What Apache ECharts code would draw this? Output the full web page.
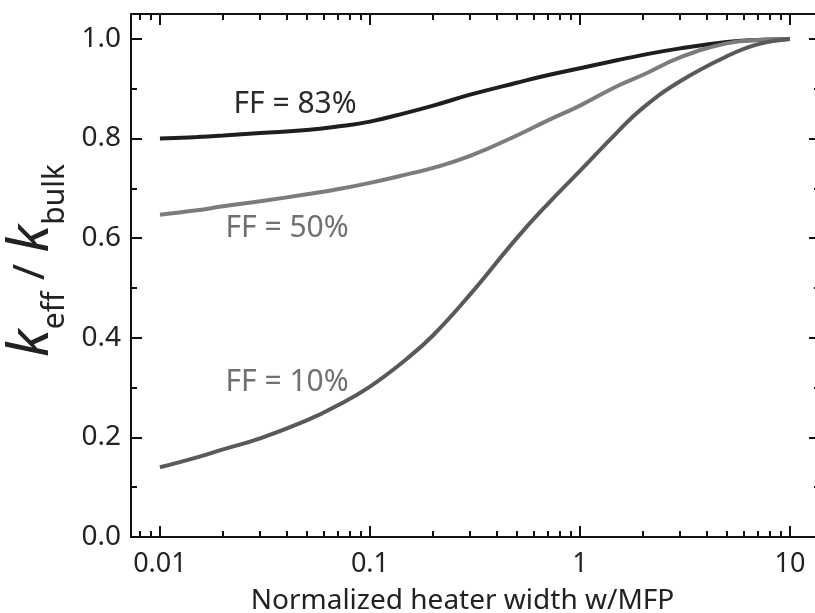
<!DOCTYPE html>
<html>
<head>
<meta charset="utf-8">
<title>keff vs heater width</title>
<script src="https://cdn.jsdelivr.net/npm/echarts@6/dist/echarts.min.js"></script>
<style>
  html, body { margin: 0; padding: 0; background: #fff; }
  #main { width: 815px; height: 613px; }
</style>
</head>
<body>
<div id="main"></div>
<script>
// normalized heater width w/MFP
const widths = [0.01, 0.015, 0.02, 0.03, 0.05, 0.07, 0.1, 0.15, 0.2, 0.3, 0.5, 0.7, 1, 1.5, 2, 3, 5, 7, 10]
// keff / kbulk for each fill factor
const ff83 = [0.800, 0.803, 0.806, 0.811, 0.817, 0.824, 0.834, 0.852, 0.866, 0.888, 0.912, 0.927, 0.941, 0.957, 0.968, 0.981, 0.994, 0.998, 1.0]
const ff50 = [0.647, 0.656, 0.664, 0.674, 0.688, 0.698, 0.711, 0.728, 0.741, 0.765, 0.806, 0.836, 0.866, 0.905, 0.928, 0.963, 0.991, 0.998, 1.0]
const ff10 = [0.140, 0.160, 0.176, 0.198, 0.234, 0.264, 0.302, 0.358, 0.405, 0.487, 0.600, 0.668, 0.735, 0.812, 0.862, 0.915, 0.965, 0.989, 1.0]

// curve labels: text, anchor w, anchor value
const ffNames = ['FF = 83%', 'FF = 50%', 'FF = 10%']
const ffLabelAt = [[0.044, 0.868], [0.0403, 0.619], [0.0403, 0.311]]

const xMajor = [0.01, 0.1, 1, 10]
const xMinor = [0.008, 0.009,
    0.02, 0.03, 0.04, 0.05, 0.06, 0.07, 0.08, 0.09,
    0.2, 0.3, 0.4, 0.5, 0.6, 0.7, 0.8, 0.9,
    2, 3, 4, 5, 6, 7, 8, 9]
const yMajor = [0, 0.2, 0.4, 0.6, 0.8, 1.0]
const yMinor = [0.1, 0.3, 0.5, 0.7, 0.9]

const xMin = 0.00728
const xMax = 13.9
const yMin = 0
const yMax = 1.05

const font = 'Noto Sans'
const axisColor = '#111'

const pairs = (ys) => widths.map((w, i) => [w, ys[i]])

function xAxis(position, ticks, len, withLine, withLabel) {
    return {
        type: 'log',
        position,
        min: xMin,
        max: xMax,
        axisLine: { show: withLine, onZero: false, lineStyle: { color: axisColor, width: 2 } },
        axisTick: { show: true, inside: true, length: len, customValues: ticks, lineStyle: { color: axisColor, width: 2 } },
        axisLabel: withLabel ? {
            customValues: xMajor,
            margin: 14,
            color: '#222',
            fontFamily: font,
            fontSize: 27,
            formatter: (v) => String(v)
        } : { show: false },
        splitLine: { show: false },
        name: withLabel ? 'Normalized heater width w/MFP' : '',
        nameLocation: 'middle',
        nameGap: 50,
        nameTextStyle: { color: '#222', fontFamily: font, fontSize: 28, padding: [0, 26, 0, 0] }
    }
}

function yAxis(position, ticks, len, withLine, withLabel) {
    return {
        type: 'value',
        position,
        min: yMin,
        max: yMax,
        axisLine: { show: withLine, onZero: false, lineStyle: { color: axisColor, width: 2 } },
        axisTick: { show: true, inside: true, length: len, customValues: ticks, lineStyle: { color: axisColor, width: 2 } },
        axisLabel: withLabel ? {
            customValues: yMajor,
            margin: 10,
            color: '#222',
            fontFamily: font,
            fontSize: 28,
            formatter: (v) => v.toFixed(1)
        } : { show: false },
        splitLine: { show: false },
        name: withLabel ? '{k|k}{sub|eff}{sl| / }{k|k}{sub|bulk}' : '',
        nameLocation: 'middle',
        nameRotate: 90,
        nameGap: 57,
        nameTextStyle: {
            color: '#222',
            fontFamily: font,
            padding: [0, 0, 0, 30],
            rich: {
                k: { fontSize: 56, fontStyle: 'italic', fontFamily: font, color: '#222', lineHeight: 78, verticalAlign: 'middle' },
                sub: { fontSize: 30, fontFamily: font, color: '#222', lineHeight: 30, verticalAlign: 'bottom' },
                sl: { fontSize: 44, fontFamily: font, color: '#222', lineHeight: 78, verticalAlign: 'middle' }
            }
        }
    }
}

function ffLabel(i, color) {
    return {
        symbol: 'circle',
        symbolSize: 1,
        silent: true,
        itemStyle: { color: 'rgba(0,0,0,0)' },
        data: [{ coord: ffLabelAt[i] }],
        label: {
            show: true,
            position: 'inside',
            formatter: ffNames[i],
            color,
            fontFamily: font,
            fontSize: 30
        }
    }
}

function ffSeries(i, ys, color, textColor) {
    return {
        name: ffNames[i],
        type: 'line',
        data: pairs(ys),
        showSymbol: false,
        smooth: 0.45,
        lineStyle: { color, width: 4 },
        markPoint: ffLabel(i, textColor)
    }
}

const myChart = echarts.init(document.getElementById('main'))

const option = {
    backgroundColor: '#fff',
    animation: false,
    grid: {
        left: 131,
        top: 14,
        right: -5,
        bottom: 76,
        containLabel: false,
        outerBoundsMode: 'none'
    },
    xAxis: [
        xAxis('bottom', xMajor, 11, true, true),
        xAxis('bottom', xMinor, 6, false, false),
        xAxis('top', xMajor, 11, true, false),
        xAxis('top', xMinor, 6, false, false)
    ],
    yAxis: [
        yAxis('left', yMajor, 11, true, true),
        yAxis('left', yMinor, 6, false, false),
        yAxis('right', yMajor, 11, true, false),
        yAxis('right', yMinor, 6, false, false)
    ],
    series: [
        ffSeries(0, ff83, '#1e1e1e', '#2a2a2a'),
        ffSeries(1, ff50, '#7c7c7c', '#707070'),
        ffSeries(2, ff10, '#595959', '#707070')
    ]
}

myChart.setOption(option)
</script>
</body>
</html>
